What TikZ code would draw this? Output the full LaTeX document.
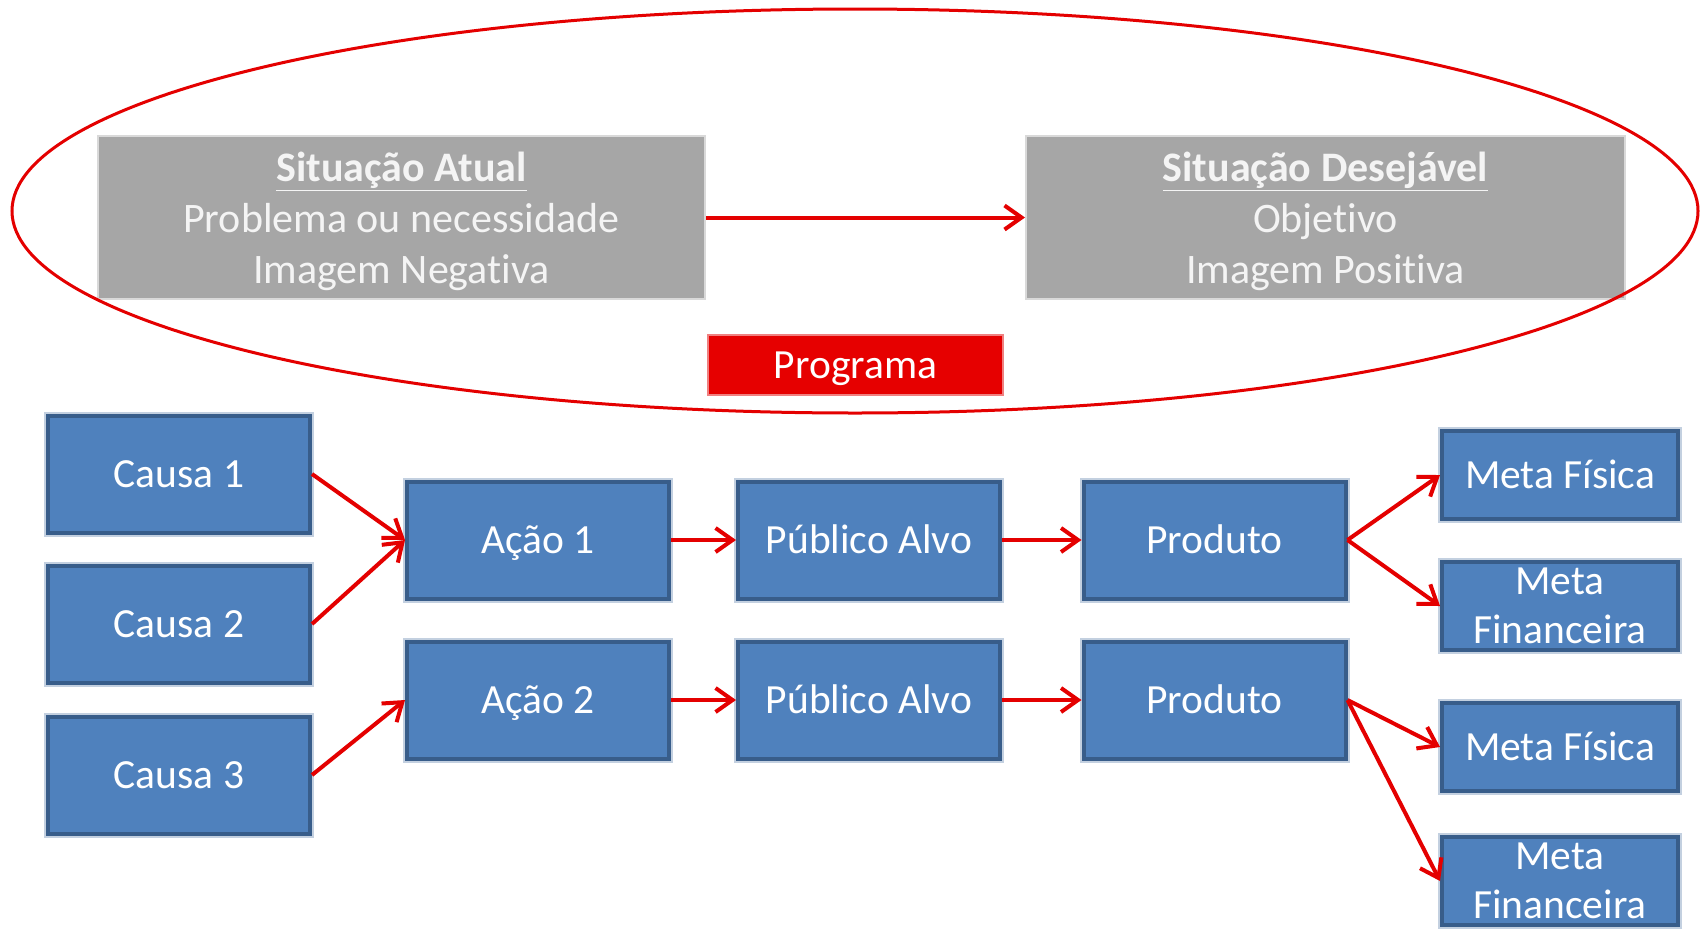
\documentclass[tikz,border=0pt]{standalone}
\usepackage{fontspec}
\setmainfont{Carlito}[Ligatures=NoCommon]
\usetikzlibrary{arrows.meta}
\definecolor{bfill}{HTML}{4F81BD}
\definecolor{bedge}{HTML}{385D8A}
\definecolor{bhalo}{HTML}{C3D0E0}
\definecolor{gfill}{HTML}{A6A6A6}
\definecolor{gedge}{HTML}{D9D9D9}
\definecolor{gtext}{HTML}{F4F4F4}
\definecolor{rline}{HTML}{E40000}
\definecolor{rfill}{HTML}{E60000}
\definecolor{redge}{HTML}{F08080}
\newcommand{\lowered}[2]{\raisebox{-#1}[\height][\depth]{\begin{tabular}{@{}c@{}}#2\end{tabular}}}
\tikzset{
  bluebox/.style={rectangle, fill=bfill, draw=bedge, line width=4pt,
    preaction={draw=bhalo, line width=8pt},
    text=white, align=center, inner sep=0pt,
    font=\fontsize{41.5}{49}\selectfont},
  oneline/.style={text height=30pt, text depth=4pt},
  bigbox/.style={bluebox, oneline, minimum width=262pt, minimum height=117pt},
  metabox/.style={bluebox, minimum width=236pt, minimum height=88pt},
  graybox/.style={rectangle, fill=gfill, draw=gedge, line width=2pt,
    text=gtext, align=center, inner sep=0pt, minimum height=163pt,
    font=\fontsize{42}{51}\selectfont},
  progbox/.style={rectangle, fill=rfill, draw=redge, line width=2pt,
    text=white, inner sep=0pt, minimum width=295pt, minimum height=60pt,
    oneline, font=\fontsize{41.5}{49}\selectfont},
  conn/.style={draw=rline, line width=4pt,
    -{Straight Barb[length=17pt,width=24pt]}},
  ring/.style={draw=rline, line width=3pt}
}
\begin{document}
\begin{tikzpicture}[x=1pt,y=-1pt]
\useasboundingbox (0,0) rectangle (1704,929);
\fill[white] (0,0) rectangle (1704,929);

% top: situations
\node[graybox, minimum width=607pt] (atual) at (401.5,217.5)
  {\lowered{5pt}{\textbf{\underline{Situação Atual}}\\Problema ou necessidade\\Imagem Negativa}};
\node[graybox, minimum width=599pt] (desej) at (1325.5,217.5)
  {\lowered{5pt}{\textbf{\underline{Situação Desejável}}\\Objetivo\\Imagem Positiva}};
\node[progbox] (prog) at (855.5,365) {Programa};
\draw[conn] (atual.east) -- (desej.west);

% ellipse around the programme
\draw[ring] (855,211) ellipse [x radius=843, y radius=202];

% causes
\node[bigbox] (c1) at (179,474) {Causa 1};
\node[bigbox] (c2) at (179,624) {Causa 2};
\node[bigbox] (c3) at (179,775) {Causa 3};
% actions
\node[bigbox] (a1) at (538,540) {Ação 1};
\node[bigbox] (a2) at (538,700) {Ação 2};
% target public
\node[bigbox] (p1) at (869,540) {Público Alvo};
\node[bigbox] (p2) at (869,700) {Público Alvo};
% products
\node[bigbox] (d1) at (1214.5,540) {Produto};
\node[bigbox] (d2) at (1214.5,700) {Produto};
% goals
\node[metabox, oneline] (mf1) at (1560,475) {Meta Física};
\node[metabox] (mn1) at (1560,606) {Meta\\Financeira};
\node[metabox, oneline] (mf2) at (1560,747) {Meta Física};
\node[metabox] (mn2) at (1560,881) {Meta\\Financeira};

% connectors
\draw[conn] (c1.east) -- (a1.west);
\draw[conn] (c2.east) -- (a1.west);
\draw[conn] (c3.east) -- (a2.west);
\draw[conn] (a1.east) -- (p1.west);
\draw[conn] (a2.east) -- (p2.west);
\draw[conn] (p1.east) -- (d1.west);
\draw[conn] (p2.east) -- (d2.west);
\draw[conn] (d1.east) -- (mf1.west);
\draw[conn] (d1.east) -- (mn1.west);
\draw[conn] (d2.east) -- (mf2.west);
\draw[conn] (d2.east) -- (mn2.west);
\end{tikzpicture}
\end{document}
